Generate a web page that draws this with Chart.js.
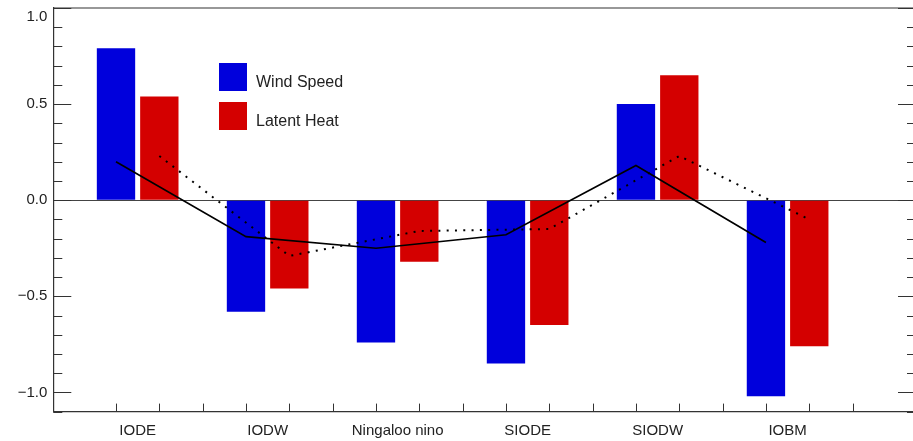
<!DOCTYPE html>
<html><head><meta charset="utf-8">
<script src="https://cdn.jsdelivr.net/npm/chart.js@4.4.0/dist/chart.umd.min.js"></script>
<style>
html,body{margin:0;padding:0;background:#fff;overflow:hidden;width:913px;height:441px;}
#wrap{position:relative;width:918px;height:441px;}
canvas{display:block;}
.lg-box{position:absolute;left:219px;width:28px;height:28px;}
.lg-txt{position:absolute;left:256px;font:16px "Liberation Sans",Arial,sans-serif;color:#222;line-height:20px;white-space:nowrap;}
</style></head><body>
<div id="wrap">
<canvas id="c" width="918" height="441"></canvas>
<div class="lg-box" id="lb0" style="top:63px"></div><div class="lg-txt" id="lt0" style="top:72px"></div>
<div class="lg-box" id="lb1" style="top:102px"></div><div class="lg-txt" id="lt1" style="top:111px"></div>
</div>
<script>
// ---- data ----
const categories = ['IODE', 'IODW', 'Ningaloo nino', 'SIODE', 'SIODW', 'IOBM'];
const windSpeed  = [0.79, -0.58, -0.74, -0.85, 0.50, -1.02];
const latentHeat = [0.54, -0.46, -0.32, -0.65, 0.65, -0.76];
const windLine   = [0.20, -0.19, -0.25, -0.18, 0.18, -0.22];
const heatLine   = [0.23, -0.29, -0.16, -0.15, 0.23, -0.10];
const seriesNames = ['Wind Speed', 'Latent Heat'];
const yTickValues = [-1.0, -0.5, 0.0, 0.5, 1.0];
const yTickLabels = ['\u22121.0', '\u22120.5', '0.0', '0.5', '1.0'];

// ---- styling ----
const BLUE = '#0000DC', RED = '#D40000', AXIS = '#333';
const FONT = {family: '"Liberation Sans", Arial, sans-serif', size: 15};
const SLOTS = 3;                         // wind bar, heat bar, gap
const windX = i => i * SLOTS;
const heatX = i => i * SLOTS + 1;
const labelX = i => i * SLOTS + 0.5;
const pts = (fx, vals) => vals.map((v, i) => ({x: fx(i), y: v}));

// legend (html)
[BLUE, RED].forEach((c, k) => {
  document.getElementById('lb' + k).style.background = c;
  document.getElementById('lt' + k).textContent = seriesNames[k];
});

const tickMarksX = [];
for (let i = 0; i < categories.length * SLOTS; i++) tickMarksX.push(i);
const labelPos = categories.map((_, i) => labelX(i));

const isClose = (a, b) => Math.abs(a - b) < 1e-6;

const frameTicks = {
  id: 'frameTicks',
  afterDraw(chart) {
    const {ctx, chartArea: a, scales: {x, y}} = chart;
    ctx.save();
    ctx.strokeStyle = AXIS;
    ctx.lineWidth = 1.2;
    ctx.beginPath();
    ctx.moveTo(a.left, a.top); ctx.lineTo(a.right, a.top);
    ctx.moveTo(a.right, a.top); ctx.lineTo(a.right, a.bottom);
    ctx.stroke();
    ctx.lineWidth = 1;
    ctx.beginPath();
    y.ticks.forEach(t => {
      const py = Math.round(y.getPixelForValue(t.value)) + 0.5;
      const major = yTickValues.some(v => isClose(v, t.value));
      const len = major ? 18 : 9;
      ctx.moveTo(a.left, py); ctx.lineTo(a.left + len, py);
      ctx.moveTo(a.right, py); ctx.lineTo(a.right - len, py);
    });
    tickMarksX.forEach(v => {
      const px = Math.round(x.getPixelForValue(v)) + 0.5;
      ctx.moveTo(px, a.bottom); ctx.lineTo(px, a.bottom - 8);
    });
    ctx.stroke();
    ctx.restore();
  }
};

new Chart(document.getElementById('c'), {
  data: {
    datasets: [
      {type: 'line', label: 'wind line', data: pts(windX, windLine), borderColor: '#000',
       borderWidth: 1.7, pointRadius: 0, tension: 0, order: 0},
      {type: 'line', label: 'heat line', data: pts(heatX, heatLine), borderColor: '#000',
       borderWidth: 2, borderDash: [2, 6.3], pointRadius: 0, tension: 0, order: 0},
      {type: 'bar', label: seriesNames[0], data: pts(windX, windSpeed), backgroundColor: BLUE,
       grouped: false, barPercentage: 0.885, categoryPercentage: 1, order: 1},
      {type: 'bar', label: seriesNames[1], data: pts(heatX, latentHeat), backgroundColor: RED,
       grouped: false, barPercentage: 0.885, categoryPercentage: 1, order: 1}
    ]
  },
  options: {
    responsive: false,
    animation: false,
    layout: {padding: {top: 8, right: 2, left: 0, bottom: 0}},
    plugins: {legend: {display: false}, tooltip: {enabled: false}},
    scales: {
      x: {
        type: 'linear', min: -1.447, max: 18.463, offset: false,
        grid: {display: false, drawTicks: false, offset: false},
        border: {display: true, color: AXIS, width: 1.2},
        ticks: {
          autoSkip: false, maxRotation: 0, padding: 10, font: FONT, color: '#222',
          callback: (v) => {
            const k = labelPos.findIndex(p => isClose(p, v));
            return k >= 0 ? categories[k] : '';
          }
        },
        afterBuildTicks: (s) => { s.ticks = labelPos.map(v => ({value: v})); },
        afterFit: (s) => { s.height = 29.4; s.paddingLeft = 0; s.paddingRight = 0; }
      },
      y: {
        type: 'linear', min: -1.1, max: 1.0,
        grid: {drawTicks: false, lineWidth: 1,
               color: (c) => (c.tick && isClose(c.tick.value, 0)) ? '#444' : 'rgba(0,0,0,0)'},
        border: {display: true, color: AXIS, width: 1.2},
        ticks: {
          stepSize: 0.1, autoSkip: false, padding: 6, font: FONT, color: '#222',
          callback: (v) => {
            const k = yTickValues.findIndex(t => isClose(t, v));
            if (k < 0) return '';
            return k === yTickValues.length - 1 ? ['', yTickLabels[k]] : yTickLabels[k];
          }
        },
        afterFit: (s) => { s.width = 53.3; s.paddingTop = 0; s.paddingBottom = 0; }
      }
    }
  },
  plugins: [frameTicks]
});
</script>
</body></html>
